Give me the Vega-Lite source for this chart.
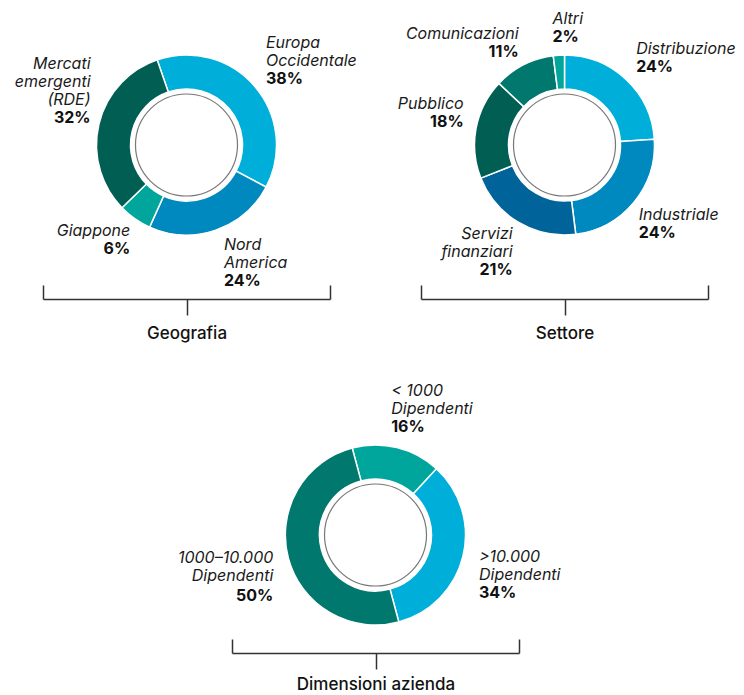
{
  "$schema": "https://vega.github.io/schema/vega-lite/v6.json",
  "padding": {"left": 14, "top": 5, "right": 0, "bottom": 0},
  "config": {"view": {"stroke": null}},
  "datasets": {
    "geo": [
      {"seg": "Europa Occidentale", "label": "Europa\nOccidentale", "pct": 0.38, "ord": 1},
      {"seg": "Nord America", "label": "Nord\nAmerica", "pct": 0.24, "ord": 2},
      {"seg": "Giappone", "label": "Giappone", "pct": 0.06, "ord": 3},
      {"seg": "Mercati emergenti (RDE)", "label": "Mercati\nemergenti\n(RDE)", "pct": 0.32, "ord": 4}
    ],
    "set": [
      {"seg": "Distribuzione", "label": "Distribuzione", "pct": 0.24, "ord": 1},
      {"seg": "Industriale", "label": "Industriale", "pct": 0.24, "ord": 2},
      {"seg": "Servizi finanziari", "label": "Servizi\nfinanziari", "pct": 0.21, "ord": 3},
      {"seg": "Pubblico", "label": "Pubblico", "pct": 0.18, "ord": 4},
      {"seg": "Comunicazioni", "label": "Comunicazioni", "pct": 0.11, "ord": 5},
      {"seg": "Altri", "label": "Altri", "pct": 0.02, "ord": 6}
    ],
    "dim": [
      {"seg": "< 1000 Dipendenti", "label": "< 1000\nDipendenti", "pct": 0.16, "ord": 1},
      {"seg": ">10.000 Dipendenti", "label": ">10.000\nDipendenti", "pct": 0.34, "ord": 2},
      {"seg": "1000–10.000 Dipendenti", "label": "1000–10.000\nDipendenti", "pct": 0.50, "ord": 3}
    ]
  },
  "columns": 3,
  "align": "each",
  "spacing": {"row": 165, "column": 0},
  "bounds": "flush",
  "concat": [
    {
      "width": 287, "height": 250,
      "data": {"name": "geo"},
      "layer": [
        {"mark": {"type": "arc", "innerRadius": 56, "outerRadius": 90, "stroke": "#ffffff", "strokeWidth": 1.5},
         "encoding": {
           "theta": {"field": "pct", "type": "quantitative", "stack": true, "scale": {"range": [-0.3316, 5.9516]}},
           "order": {"field": "ord", "type": "quantitative"},
           "color": {"field": "seg", "type": "nominal", "legend": null,
             "scale": {"domain": ["Europa Occidentale","Nord America","Giappone","Mercati emergenti (RDE)","Distribuzione","Industriale","Servizi finanziari","Pubblico","Comunicazioni","Altri","< 1000 Dipendenti",">10.000 Dipendenti","1000–10.000 Dipendenti"],
                       "range": ["#00AEDA","#0089BF","#00A59B","#005E53","#00AEDA","#0089BF","#00649A","#005E53","#00786E","#00A59B","#00A59B","#00AEDA","#00786E"]}}
         }},
        {"data": {"values": [{}]},
         "mark": {"type": "point", "shape": "circle", "size": 10404, "filled": false, "stroke": "#777777", "strokeWidth": 1.2, "opacity": 1},
         "encoding": {"x": {"datum": 0.5, "type": "quantitative", "scale": {"domain": [0, 1], "nice": false, "zero": false},
           "axis": {"values": [0, 0.5, 1], "labels": false, "grid": false, "domain": true, "domainColor": "#333333", "domainWidth": 1.5, "ticks": true, "tickColor": "#333333", "tickWidth": 1.5,
             "tickSize": {"condition": {"test": "datum.value === 0.5", "value": 16}, "value": -14},
             "offset": 29, "minExtent": 0, "title": "Geografia", "titleFont": "Inter", "titleFontSize": 17, "titleFontWeight": 500, "titleColor": "#111111", "titlePadding": 9.5}}}},
        {"mark": {"type": "text", "align": "left", "baseline": "alphabetic", "font": "Inter", "fontSize": 16, "fontStyle": "italic", "lineHeight": 18, "lineBreak": "\n", "color": "#1a1a1a", "radius": 112, "dx": -5.6, "dy": -24},
         "encoding": {"theta": {"field": "pct", "type": "quantitative", "stack": true, "scale": {"range": [-0.3316, 5.9516]}}, "order": {"field": "ord", "type": "quantitative"},
           "text": {"condition": {"test": "datum.seg === 'Europa Occidentale'", "field": "label"}, "value": ""}}},
        {"mark": {"type": "text", "align": "left", "baseline": "alphabetic", "font": "Inter", "fontSize": 16, "fontWeight": "bold", "color": "#111111", "radius": 112, "dx": -5.6, "dy": 12},
         "encoding": {"theta": {"field": "pct", "type": "quantitative", "stack": true, "scale": {"range": [-0.3316, 5.9516]}}, "order": {"field": "ord", "type": "quantitative"},
           "text": {"condition": {"test": "datum.seg === 'Europa Occidentale'", "field": "pct", "type": "quantitative", "format": ".0%"}, "value": ""}}},
        {"mark": {"type": "text", "align": "left", "baseline": "alphabetic", "font": "Inter", "fontSize": 16, "fontStyle": "italic", "lineHeight": 18, "lineBreak": "\n", "color": "#1a1a1a", "radius": 112, "dx": 1, "dy": -1},
         "encoding": {"theta": {"field": "pct", "type": "quantitative", "stack": true, "scale": {"range": [-0.3316, 5.9516]}}, "order": {"field": "ord", "type": "quantitative"},
           "text": {"condition": {"test": "datum.seg === 'Nord America'", "field": "label"}, "value": ""}}},
        {"mark": {"type": "text", "align": "left", "baseline": "alphabetic", "font": "Inter", "fontSize": 16, "fontWeight": "bold", "color": "#111111", "radius": 112, "dx": 1, "dy": 35},
         "encoding": {"theta": {"field": "pct", "type": "quantitative", "stack": true, "scale": {"range": [-0.3316, 5.9516]}}, "order": {"field": "ord", "type": "quantitative"},
           "text": {"condition": {"test": "datum.seg === 'Nord America'", "field": "pct", "type": "quantitative", "format": ".0%"}, "value": ""}}},
        {"mark": {"type": "text", "align": "right", "baseline": "alphabetic", "font": "Inter", "fontSize": 16, "fontStyle": "italic", "lineHeight": 18, "lineBreak": "\n", "color": "#1a1a1a", "radius": 112, "dx": 8, "dy": -1},
         "encoding": {"theta": {"field": "pct", "type": "quantitative", "stack": true, "scale": {"range": [-0.3316, 5.9516]}}, "order": {"field": "ord", "type": "quantitative"},
           "text": {"condition": {"test": "datum.seg === 'Giappone'", "field": "label"}, "value": ""}}},
        {"mark": {"type": "text", "align": "right", "baseline": "alphabetic", "font": "Inter", "fontSize": 16, "fontWeight": "bold", "color": "#111111", "radius": 112, "dx": 8, "dy": 17},
         "encoding": {"theta": {"field": "pct", "type": "quantitative", "stack": true, "scale": {"range": [-0.3316, 5.9516]}}, "order": {"field": "ord", "type": "quantitative"},
           "text": {"condition": {"test": "datum.seg === 'Giappone'", "field": "pct", "type": "quantitative", "format": ".0%"}, "value": ""}}},
        {"mark": {"type": "text", "align": "right", "baseline": "alphabetic", "font": "Inter", "fontSize": 16, "fontStyle": "italic", "lineHeight": 18, "lineBreak": "\n", "color": "#1a1a1a", "radius": 112, "dx": 13, "dy": -50.5},
         "encoding": {"theta": {"field": "pct", "type": "quantitative", "stack": true, "scale": {"range": [-0.3316, 5.9516]}}, "order": {"field": "ord", "type": "quantitative"},
           "text": {"condition": {"test": "datum.seg === 'Mercati emergenti (RDE)'", "field": "label"}, "value": ""}}},
        {"mark": {"type": "text", "align": "right", "baseline": "alphabetic", "font": "Inter", "fontSize": 16, "fontWeight": "bold", "color": "#111111", "radius": 112, "dx": 13, "dy": 3.5},
         "encoding": {"theta": {"field": "pct", "type": "quantitative", "stack": true, "scale": {"range": [-0.3316, 5.9516]}}, "order": {"field": "ord", "type": "quantitative"},
           "text": {"condition": {"test": "datum.seg === 'Mercati emergenti (RDE)'", "field": "pct", "type": "quantitative", "format": ".0%"}, "value": ""}}}
      ]
    },
    {
      "width": 91, "height": 250,
      "data": {"values": []},
      "mark": "point",
      "encoding": {}
    },
    {
      "width": 287, "height": 250,
      "data": {"name": "set"},
      "layer": [
        {"mark": {"type": "arc", "innerRadius": 56, "outerRadius": 90, "stroke": "#ffffff", "strokeWidth": 1.5},
         "encoding": {
           "theta": {"field": "pct", "type": "quantitative", "stack": true, "scale": {"range": [0, 6.2832]}},
           "order": {"field": "ord", "type": "quantitative"},
           "color": {"field": "seg", "type": "nominal", "legend": null,
             "scale": {"domain": ["Europa Occidentale","Nord America","Giappone","Mercati emergenti (RDE)","Distribuzione","Industriale","Servizi finanziari","Pubblico","Comunicazioni","Altri","< 1000 Dipendenti",">10.000 Dipendenti","1000–10.000 Dipendenti"],
                       "range": ["#00AEDA","#0089BF","#00A59B","#005E53","#00AEDA","#0089BF","#00649A","#005E53","#00786E","#00A59B","#00A59B","#00AEDA","#00786E"]}}
         }},
        {"data": {"values": [{}]},
         "mark": {"type": "point", "shape": "circle", "size": 10404, "filled": false, "stroke": "#777777", "strokeWidth": 1.2, "opacity": 1},
         "encoding": {"x": {"datum": 0.5, "type": "quantitative", "scale": {"domain": [0, 1], "nice": false, "zero": false},
           "axis": {"values": [0, 0.5, 1], "labels": false, "grid": false, "domain": true, "domainColor": "#333333", "domainWidth": 1.5, "ticks": true, "tickColor": "#333333", "tickWidth": 1.5,
             "tickSize": {"condition": {"test": "datum.value === 0.5", "value": 16}, "value": -14},
             "offset": 29, "minExtent": 0, "title": "Settore", "titleFont": "Inter", "titleFontSize": 17, "titleFontWeight": 500, "titleColor": "#111111", "titlePadding": 9.5}}}},
        {"mark": {"type": "text", "align": "left", "baseline": "alphabetic", "font": "Inter", "fontSize": 16, "fontStyle": "italic", "lineHeight": 18, "lineBreak": "\n", "color": "#1a1a1a", "radius": 112, "dx": -5, "dy": -9},
         "encoding": {"theta": {"field": "pct", "type": "quantitative", "stack": true, "scale": {"range": [0, 6.2832]}}, "order": {"field": "ord", "type": "quantitative"},
           "text": {"condition": {"test": "datum.seg === 'Distribuzione' || datum.seg === 'Altri'", "field": "label"}, "value": ""}}},
        {"mark": {"type": "text", "align": "left", "baseline": "alphabetic", "font": "Inter", "fontSize": 16, "fontWeight": "bold", "color": "#111111", "radius": 112, "dx": -5, "dy": 9},
         "encoding": {"theta": {"field": "pct", "type": "quantitative", "stack": true, "scale": {"range": [0, 6.2832]}}, "order": {"field": "ord", "type": "quantitative"},
           "text": {"condition": {"test": "datum.seg === 'Distribuzione' || datum.seg === 'Altri'", "field": "pct", "type": "quantitative", "format": ".0%"}, "value": ""}}},
        {"mark": {"type": "text", "align": "left", "baseline": "alphabetic", "font": "Inter", "fontSize": 16, "fontStyle": "italic", "lineHeight": 18, "lineBreak": "\n", "color": "#1a1a1a", "radius": 112, "dx": -12, "dy": 3.6},
         "encoding": {"theta": {"field": "pct", "type": "quantitative", "stack": true, "scale": {"range": [0, 6.2832]}}, "order": {"field": "ord", "type": "quantitative"},
           "text": {"condition": {"test": "datum.seg === 'Industriale'", "field": "label"}, "value": ""}}},
        {"mark": {"type": "text", "align": "left", "baseline": "alphabetic", "font": "Inter", "fontSize": 16, "fontWeight": "bold", "color": "#111111", "radius": 112, "dx": -12, "dy": 21.6},
         "encoding": {"theta": {"field": "pct", "type": "quantitative", "stack": true, "scale": {"range": [0, 6.2832]}}, "order": {"field": "ord", "type": "quantitative"},
           "text": {"condition": {"test": "datum.seg === 'Industriale'", "field": "pct", "type": "quantitative", "format": ".0%"}, "value": ""}}},
        {"mark": {"type": "text", "align": "right", "baseline": "alphabetic", "font": "Inter", "fontSize": 16, "fontStyle": "italic", "lineHeight": 18, "lineBreak": "\n", "color": "#1a1a1a", "radius": 112, "dx": 5.2, "dy": -2},
         "encoding": {"theta": {"field": "pct", "type": "quantitative", "stack": true, "scale": {"range": [0, 6.2832]}}, "order": {"field": "ord", "type": "quantitative"},
           "text": {"condition": {"test": "datum.seg === 'Servizi finanziari'", "field": "label"}, "value": ""}}},
        {"mark": {"type": "text", "align": "right", "baseline": "alphabetic", "font": "Inter", "fontSize": 16, "fontWeight": "bold", "color": "#111111", "radius": 112, "dx": 5.2, "dy": 34},
         "encoding": {"theta": {"field": "pct", "type": "quantitative", "stack": true, "scale": {"range": [0, 6.2832]}}, "order": {"field": "ord", "type": "quantitative"},
           "text": {"condition": {"test": "datum.seg === 'Servizi finanziari'", "field": "pct", "type": "quantitative", "format": ".0%"}, "value": ""}}},
        {"mark": {"type": "text", "align": "right", "baseline": "alphabetic", "font": "Inter", "fontSize": 16, "fontStyle": "italic", "lineHeight": 18, "lineBreak": "\n", "color": "#1a1a1a", "radius": 112, "dx": 9.2, "dy": -15},
         "encoding": {"theta": {"field": "pct", "type": "quantitative", "stack": true, "scale": {"range": [0, 6.2832]}}, "order": {"field": "ord", "type": "quantitative"},
           "text": {"condition": {"test": "datum.seg === 'Pubblico'", "field": "label"}, "value": ""}}},
        {"mark": {"type": "text", "align": "right", "baseline": "alphabetic", "font": "Inter", "fontSize": 16, "fontWeight": "bold", "color": "#111111", "radius": 112, "dx": 9.2, "dy": 3},
         "encoding": {"theta": {"field": "pct", "type": "quantitative", "stack": true, "scale": {"range": [0, 6.2832]}}, "order": {"field": "ord", "type": "quantitative"},
           "text": {"condition": {"test": "datum.seg === 'Pubblico'", "field": "pct", "type": "quantitative", "format": ".0%"}, "value": ""}}},
        {"mark": {"type": "text", "align": "right", "baseline": "alphabetic", "font": "Inter", "fontSize": 16, "fontStyle": "italic", "lineHeight": 18, "lineBreak": "\n", "color": "#1a1a1a", "radius": 112, "dx": 5, "dy": -6.2},
         "encoding": {"theta": {"field": "pct", "type": "quantitative", "stack": true, "scale": {"range": [0, 6.2832]}}, "order": {"field": "ord", "type": "quantitative"},
           "text": {"condition": {"test": "datum.seg === 'Comunicazioni'", "field": "label"}, "value": ""}}},
        {"mark": {"type": "text", "align": "right", "baseline": "alphabetic", "font": "Inter", "fontSize": 16, "fontWeight": "bold", "color": "#111111", "radius": 112, "dx": 5, "dy": 11.8},
         "encoding": {"theta": {"field": "pct", "type": "quantitative", "stack": true, "scale": {"range": [0, 6.2832]}}, "order": {"field": "ord", "type": "quantitative"},
           "text": {"condition": {"test": "datum.seg === 'Comunicazioni'", "field": "pct", "type": "quantitative", "format": ".0%"}, "value": ""}}}
      ]
    },
    {
      "width": 287, "height": 200,
      "data": {"values": []},
      "mark": "point",
      "encoding": {}
    },
    {
      "width": 91, "height": 200,
      "data": {"name": "dim"},
      "layer": [
        {"mark": {"type": "arc", "innerRadius": 56, "outerRadius": 90, "stroke": "#ffffff", "strokeWidth": 1.5},
         "encoding": {
           "theta": {"field": "pct", "type": "quantitative", "stack": true, "scale": {"range": [-0.2618, 6.0214]}},
           "order": {"field": "ord", "type": "quantitative"},
           "color": {"field": "seg", "type": "nominal", "legend": null,
             "scale": {"domain": ["Europa Occidentale","Nord America","Giappone","Mercati emergenti (RDE)","Distribuzione","Industriale","Servizi finanziari","Pubblico","Comunicazioni","Altri","< 1000 Dipendenti",">10.000 Dipendenti","1000–10.000 Dipendenti"],
                       "range": ["#00AEDA","#0089BF","#00A59B","#005E53","#00AEDA","#0089BF","#00649A","#005E53","#00786E","#00A59B","#00A59B","#00AEDA","#00786E"]}}
         }},
        {"data": {"values": [{}]},
         "mark": {"type": "point", "shape": "circle", "size": 10404, "filled": false, "stroke": "#777777", "strokeWidth": 1.2, "opacity": 1},
         "encoding": {"x": {"datum": 0.5, "type": "quantitative", "scale": {"domain": [0, 1], "range": [-98, 189], "nice": false, "zero": false},
           "axis": {"values": [0, 0.5, 1], "labels": false, "grid": false, "domain": true, "domainColor": "#333333", "domainWidth": 1.5, "ticks": true, "tickColor": "#333333", "tickWidth": 1.5,
             "tickSize": {"condition": {"test": "datum.value === 0.5", "value": 16}, "value": -14},
             "offset": 18, "minExtent": 0, "title": "Dimensioni azienda", "titleFont": "Inter", "titleFontSize": 17, "titleFontWeight": 500, "titleColor": "#111111", "titlePadding": 7}}}},
        {"mark": {"type": "text", "align": "left", "baseline": "alphabetic", "font": "Inter", "fontSize": 16, "fontStyle": "italic", "lineHeight": 18, "lineBreak": "\n", "color": "#1a1a1a", "radius": 112, "dx": -11, "dy": -30},
         "encoding": {"theta": {"field": "pct", "type": "quantitative", "stack": true, "scale": {"range": [-0.2618, 6.0214]}}, "order": {"field": "ord", "type": "quantitative"},
           "text": {"condition": {"test": "datum.seg === '< 1000 Dipendenti'", "field": "label"}, "value": ""}}},
        {"mark": {"type": "text", "align": "left", "baseline": "alphabetic", "font": "Inter", "fontSize": 16, "fontWeight": "bold", "color": "#111111", "radius": 112, "dx": -11, "dy": 6},
         "encoding": {"theta": {"field": "pct", "type": "quantitative", "stack": true, "scale": {"range": [-0.2618, 6.0214]}}, "order": {"field": "ord", "type": "quantitative"},
           "text": {"condition": {"test": "datum.seg === '< 1000 Dipendenti'", "field": "pct", "type": "quantitative", "format": ".0%"}, "value": ""}}},
        {"mark": {"type": "text", "align": "left", "baseline": "alphabetic", "font": "Inter", "fontSize": 16, "fontStyle": "italic", "lineHeight": 18, "lineBreak": "\n", "color": "#1a1a1a", "radius": 112, "dx": -5.3, "dy": 0.6},
         "encoding": {"theta": {"field": "pct", "type": "quantitative", "stack": true, "scale": {"range": [-0.2618, 6.0214]}}, "order": {"field": "ord", "type": "quantitative"},
           "text": {"condition": {"test": "datum.seg === '>10.000 Dipendenti'", "field": "label"}, "value": ""}}},
        {"mark": {"type": "text", "align": "left", "baseline": "alphabetic", "font": "Inter", "fontSize": 16, "fontWeight": "bold", "color": "#111111", "radius": 112, "dx": -5.3, "dy": 36.6},
         "encoding": {"theta": {"field": "pct", "type": "quantitative", "stack": true, "scale": {"range": [-0.2618, 6.0214]}}, "order": {"field": "ord", "type": "quantitative"},
           "text": {"condition": {"test": "datum.seg === '>10.000 Dipendenti'", "field": "pct", "type": "quantitative", "format": ".0%"}, "value": ""}}},
        {"mark": {"type": "text", "align": "right", "baseline": "alphabetic", "font": "Inter", "fontSize": 16, "fontStyle": "italic", "lineHeight": 18, "lineBreak": "\n", "color": "#1a1a1a", "radius": 112, "dx": 6, "dy": -1},
         "encoding": {"theta": {"field": "pct", "type": "quantitative", "stack": true, "scale": {"range": [-0.2618, 6.0214]}}, "order": {"field": "ord", "type": "quantitative"},
           "text": {"condition": {"test": "datum.seg === '1000–10.000 Dipendenti'", "field": "label"}, "value": ""}}},
        {"mark": {"type": "text", "align": "right", "baseline": "alphabetic", "font": "Inter", "fontSize": 16, "fontWeight": "bold", "color": "#111111", "radius": 112, "dx": 6, "dy": 37},
         "encoding": {"theta": {"field": "pct", "type": "quantitative", "stack": true, "scale": {"range": [-0.2618, 6.0214]}}, "order": {"field": "ord", "type": "quantitative"},
           "text": {"condition": {"test": "datum.seg === '1000–10.000 Dipendenti'", "field": "pct", "type": "quantitative", "format": ".0%"}, "value": ""}}}
      ]
    }
  ]
}
